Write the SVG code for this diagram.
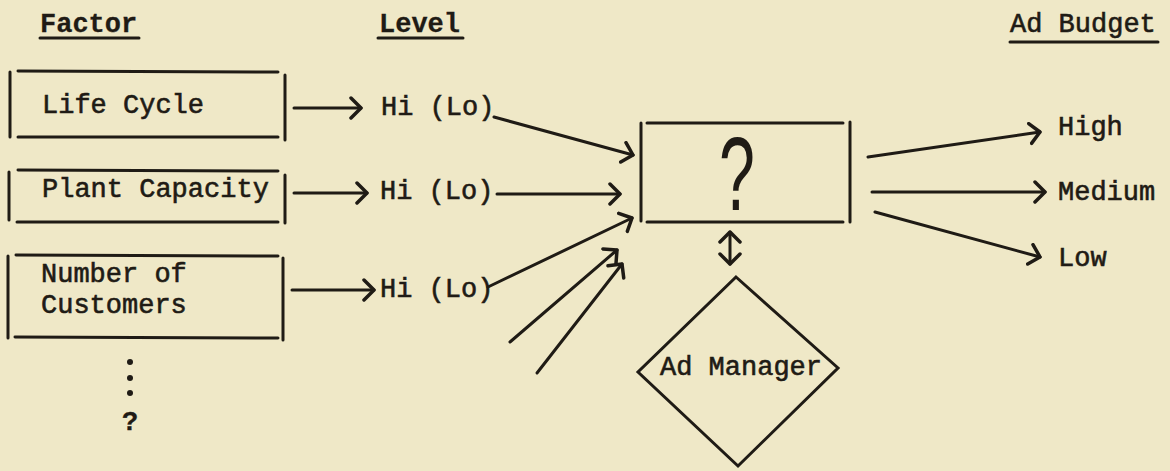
<svg xmlns="http://www.w3.org/2000/svg" width="1170" height="471" viewBox="0 0 1170 471">
  <style>
    .bg { fill: #efe8c7; }
    .ln { stroke: #1f1b15; stroke-width: 3; fill: none; stroke-linecap: round; }
    .tx { font-family: "Liberation Mono", "DejaVu Sans Mono", monospace; font-size: 27px; fill: #1f1b15; stroke: #1f1b15; stroke-width: 0.6; }
    .hd { font-weight: bold; stroke-width: 0.3; }
    .conn line { stroke: #1f1b15; stroke-width: 3; stroke-linecap: round; marker-end: url(#chev); }
  </style>
  <defs>
    <marker id="chev" markerUnits="userSpaceOnUse" markerWidth="16" markerHeight="26" refX="12" refY="12" orient="auto" viewBox="0 0 16 26">
      <path d="M2,2 L12,12 L2,22" fill="none" stroke="#1f1b15" stroke-width="3.5" stroke-linecap="round" stroke-linejoin="round"/>
    </marker>
    <marker id="chevStart" markerUnits="userSpaceOnUse" markerWidth="16" markerHeight="26" refX="12" refY="12" orient="auto-start-reverse" viewBox="0 0 16 26">
      <path d="M2,2 L12,12 L2,22" fill="none" stroke="#1f1b15" stroke-width="3.5" stroke-linecap="round" stroke-linejoin="round"/>
    </marker>
  </defs>

  <rect class="bg" x="0" y="0" width="1170" height="471"/>

  <!-- column headings -->
  <g id="headings">
    <text class="tx hd" x="40" y="32">Factor</text>
    <line class="ln" x1="40" y1="38" x2="139" y2="38"/>
    <text class="tx hd" x="379" y="32">Level</text>
    <line class="ln" x1="378" y1="38" x2="463" y2="38"/>
    <text class="tx" x="1010" y="32">Ad Budget</text>
    <line class="ln" x1="1010" y1="42" x2="1158" y2="42"/>
  </g>

  <!-- factor boxes -->
  <g id="life-cycle">
    <line class="ln" x1="10" y1="72" x2="10" y2="137"/>
    <line class="ln" x1="18" y1="71" x2="278" y2="72"/>
    <line class="ln" x1="18" y1="137" x2="278" y2="137"/>
    <line class="ln" x1="285" y1="75" x2="285" y2="140"/>
    <text class="tx" x="42" y="113">Life Cycle</text>
  </g>
  <g id="plant-capacity">
    <line class="ln" x1="9" y1="172" x2="9" y2="220"/>
    <line class="ln" x1="18" y1="170" x2="278" y2="171"/>
    <line class="ln" x1="17" y1="222" x2="278" y2="222"/>
    <line class="ln" x1="285" y1="175" x2="285" y2="223"/>
    <text class="tx" x="42" y="197">Plant Capacity</text>
  </g>
  <g id="number-of-customers">
    <line class="ln" x1="8" y1="256" x2="8" y2="338"/>
    <line class="ln" x1="16" y1="255" x2="278" y2="256"/>
    <line class="ln" x1="15" y1="337" x2="278" y2="338"/>
    <line class="ln" x1="283" y1="258" x2="283" y2="340"/>
    <text class="tx" x="41" y="282">Number of</text>
    <text class="tx" x="41" y="313">Customers</text>
  </g>
  <g id="more-factors">
    <circle cx="130" cy="362" r="3" fill="#1f1b15"/>
    <circle cx="130" cy="378" r="3" fill="#1f1b15"/>
    <circle cx="130" cy="393" r="3" fill="#1f1b15"/>
    <text class="tx hd" x="130" y="430" text-anchor="middle">?</text>
  </g>

  <!-- level labels -->
  <g id="level-1"><text class="tx" x="381" y="115">Hi (Lo)</text></g>
  <g id="level-2"><text class="tx" x="380" y="199">Hi (Lo)</text></g>
  <g id="level-3"><text class="tx" x="380" y="297">Hi (Lo)</text></g>

  <!-- decision box -->
  <g id="decision">
    <line class="ln" x1="641" y1="123" x2="641" y2="221"/>
    <line class="ln" x1="647" y1="123" x2="843" y2="123"/>
    <line class="ln" x1="647" y1="222" x2="843" y2="222"/>
    <line class="ln" x1="850" y1="122" x2="850" y2="222"/>
    <text transform="translate(737,210) scale(0.62,1)" text-anchor="middle" font-family="Liberation Sans, Arial, sans-serif" font-size="104" fill="#1f1b15">?</text>
  </g>

  <!-- ad manager -->
  <g id="ad-manager">
    <path class="ln" d="M736,277 L838,368 L738,466 L638,372 Z" stroke-linejoin="miter"/>
    <text class="tx" x="741" y="375" text-anchor="middle">Ad Manager</text>
  </g>

  <!-- budget outcomes -->
  <g id="high"><text class="tx" x="1058" y="135">High</text></g>
  <g id="medium"><text class="tx" x="1058" y="200">Medium</text></g>
  <g id="low"><text class="tx" x="1058" y="266">Low</text></g>

  <!-- connectors -->
  <g id="connectors" class="conn">
    <line x1="294" y1="108" x2="361" y2="108"/>
    <line x1="294" y1="193" x2="367" y2="193"/>
    <line x1="292" y1="290" x2="374" y2="290"/>

    <line x1="494" y1="117" x2="633" y2="155"/>
    <line x1="497" y1="194" x2="620" y2="194"/>
    <line x1="488" y1="287" x2="632" y2="218"/>
    <line x1="510" y1="342" x2="617" y2="250"/>
    <line x1="537" y1="373" x2="622" y2="264"/>

    <line x1="730" y1="232" x2="730" y2="264" marker-start="url(#chevStart)"/>

    <line x1="868" y1="157" x2="1040" y2="132"/>
    <line x1="872" y1="192" x2="1045" y2="192"/>
    <line x1="875" y1="212" x2="1040" y2="257"/>
  </g>
</svg>
